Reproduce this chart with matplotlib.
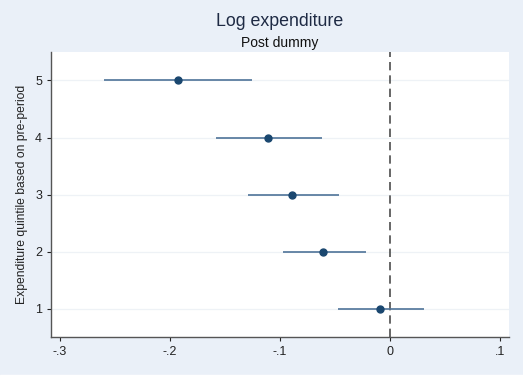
import matplotlib.pyplot as plt
import numpy as np

plt.rcParams['font.family'] = ['Liberation Sans', 'DejaVu Sans']

quintiles = [1, 2, 3, 4, 5]
estimates = [-0.009, -0.061, -0.089, -0.111, -0.193]
ci_low = [-0.047, -0.097, -0.129, -0.158, -0.260]
ci_high = [0.031, -0.022, -0.046, -0.062, -0.125]
xticks = [-0.3, -0.2, -0.1, 0, 0.1]
xticklabels = ['-.3', '-.2', '-.1', '0', '.1']

bg = '#eaf0f8'
fig = plt.figure(figsize=(5.23, 3.79), dpi=100, facecolor=bg)
ax = fig.add_axes([0.0975, 0.1108, 0.8755, 0.752])
ax.set_facecolor('white')

for q in quintiles:
    ax.axhline(q, color='#eef2f6', lw=0.9, zorder=0)

ax.hlines(quintiles, ci_low, ci_high, color='#4f7399', lw=1.2, zorder=2)
ax.plot(estimates, quintiles, 'o', color='#1a476f', ms=5, zorder=3)
ax.axvline(0, color='#4d4d4d', lw=1.2, ls=(0, (5, 3)), zorder=1)

ax.set_xlim(-0.308, 0.108)
ax.set_ylim(0.5, 5.5)
ax.set_xticks(xticks)
ax.set_xticklabels(xticklabels)
ax.set_yticks(quintiles)
ax.tick_params(colors='#222222', labelsize=9, length=3, width=0.8)
for s in ['top', 'right']:
    ax.spines[s].set_visible(False)
for s in ['left', 'bottom']:
    ax.spines[s].set_color('#555555')
    ax.spines[s].set_linewidth(1.0)

ax.set_ylabel('Expenditure quintile based on pre-period', fontsize=8.7, color='#222222', labelpad=5)
fig.text(0.535, 0.942, 'Log expenditure', ha='center', va='center', fontsize=12.8, color='#1e2a44')
fig.text(0.535, 0.886, 'Post dummy', ha='center', va='center', fontsize=10, color='#111111')

# thin white strip at the bottom edge like the screenshot
fig.patches.append(plt.Rectangle((0, 0), 1, 0.011, transform=fig.transFigure, color='white'))

fig.savefig('out.png', dpi=100, facecolor=bg)
